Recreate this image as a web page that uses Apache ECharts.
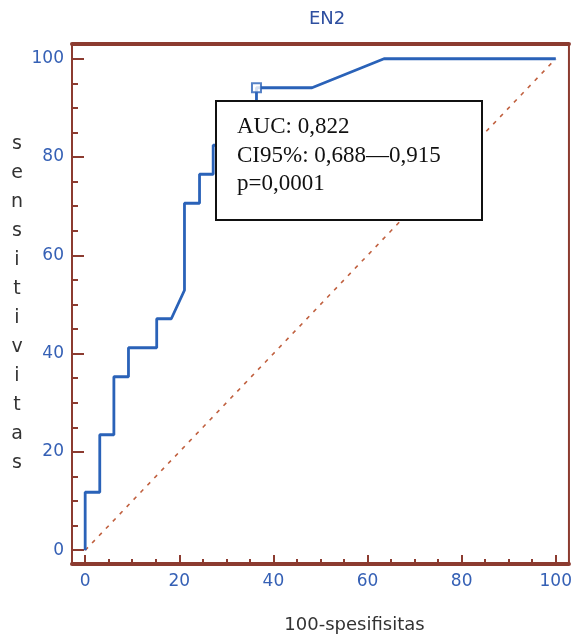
<!DOCTYPE html>
<html>
<head>
<meta charset="utf-8">
<script src="https://cdn.jsdelivr.net/npm/echarts@6/dist/echarts.min.js"></script>
<style>
  html, body { margin: 0; padding: 0; background: #fff; }
  #chart { width: 575px; height: 639px; }
</style>
</head>
<body>
<div id="chart"></div>
<script>
// ROC curve points (100-specificity, sensitivity)
const rocX = [0, 0, 3.1, 3.1, 6.1, 6.1, 9.2, 9.2, 15.2, 15.2, 18.3, 21.1, 21.1, 24.3, 24.3, 27.2, 27.2, 30.3, 30.3, 36.4, 36.4, 48.2, 63.5, 100];
const rocY = [0, 11.8, 11.8, 23.5, 23.5, 35.3, 35.3, 41.2, 41.2, 47.1, 47.1, 52.9, 70.6, 70.6, 76.5, 76.5, 82.4, 82.4, 88.2, 88.2, 94.1, 94.1, 100, 100];
const cutPoint = [36.4, 94.1];
const refLine = [[0, 0], [100, 100]];

const majorTicks = [0, 20, 40, 60, 80, 100];
const minorTicks = [0, 5, 10, 15, 20, 25, 30, 35, 40, 45, 50, 55, 60, 65, 70, 75, 80, 85, 90, 95, 100];

const statLines = ['AUC: 0,822', 'CI95%: 0,688\u20140,915', 'p=0,0001'];

const axisColor = '#8c3b30';
const labelColor = '#3560b5';
const lineColor = '#2a62b8';

const chart = echarts.init(document.getElementById('chart'));

function axisPair(dim) {
  const isX = dim === 'x';
  const base = {
    type: 'value',
    min: -2.8,
    max: isX ? 102.8 : 103,
    position: isX ? 'bottom' : 'left',
    splitLine: { show: false }
  };
  return [
    Object.assign({}, base, {
      axisLine: { show: true, onZero: false, lineStyle: { color: axisColor, width: isX ? 4 : 2 } },
      axisTick: { show: true, inside: true, length: isX ? 5 : 6, customValues: minorTicks,
        lineStyle: { color: axisColor, width: 2 } },
      axisLabel: { show: true, customValues: majorTicks, color: labelColor,
        fontFamily: 'DejaVu Sans', fontSize: 17, margin: isX ? 9 : 8 },
      name: isX ? '100-spesifisitas' : 'sensitivitas'.split('').join('\n'),
      nameLocation: 'middle',
      nameGap: isX ? 61 : 55,
      nameRotate: 0,
      nameTextStyle: isX
        ? { color: '#333', fontFamily: 'DejaVu Sans', fontSize: 18, verticalAlign: 'middle', padding: [0, 0, 0, 68] }
        : { color: '#333', fontFamily: 'DejaVu Sans', fontSize: 19, align: 'center', verticalAlign: 'middle', lineHeight: 29 }
    }),
    Object.assign({}, base, {
      axisLine: { show: false, onZero: false },
      axisTick: { show: true, inside: true, length: isX ? 9 : 12, customValues: majorTicks,
        lineStyle: { color: axisColor, width: 2 } },
      axisLabel: { show: false }
    })
  ];
}

const xAxes = axisPair('x');
xAxes.push({
  type: 'value', min: -2.8, max: 102.8, position: 'top',
  axisLine: { show: true, onZero: false, lineStyle: { color: axisColor, width: 4 } },
  axisTick: { show: false }, axisLabel: { show: false }, splitLine: { show: false }
});

const option = {
  animation: false,
  title: {
    text: 'EN2',
    left: 304,
    top: 5,
    textStyle: { color: '#2e4fa0', fontFamily: 'DejaVu Sans', fontSize: 18, fontWeight: 'normal' }
  },
  grid: {
    left: 72, right: 5, top: 44, bottom: 72,
    show: true, borderColor: axisColor, borderWidth: 2, backgroundColor: '#fff'
  },
  xAxis: xAxes,
  yAxis: axisPair('y'),
  series: [
    {
      type: 'line',
      data: refLine,
      symbol: 'none',
      lineStyle: { color: '#c0603f', width: 1.6, type: [4, 6] },
      z: 2
    },
    {
      type: 'line',
      data: rocX.map((x, i) => [x, rocY[i]]),
      symbol: 'none',
      lineStyle: { color: lineColor, width: 2.8 },
      z: 3
    },
    {
      type: 'scatter',
      data: [cutPoint],
      symbol: 'rect',
      symbolSize: 9,
      itemStyle: { color: '#fff', borderColor: lineColor, borderWidth: 2 },
      z: 4
    }
  ],
  graphic: [
    {
      type: 'rect',
      z: 100,
      shape: { x: 216, y: 101, width: 266, height: 119 },
      style: { fill: '#fff', stroke: '#111', lineWidth: 2 }
    },
    {
      type: 'text',
      z: 101,
      x: 237,
      y: 113,
      style: {
        text: statLines.join('\n'),
        fill: '#111',
        font: '23px "Liberation Serif", "Times New Roman", serif',
        lineHeight: 28.5,
        verticalAlign: 'top'
      }
    }
  ]
};

chart.setOption(option);
</script>
</body>
</html>
